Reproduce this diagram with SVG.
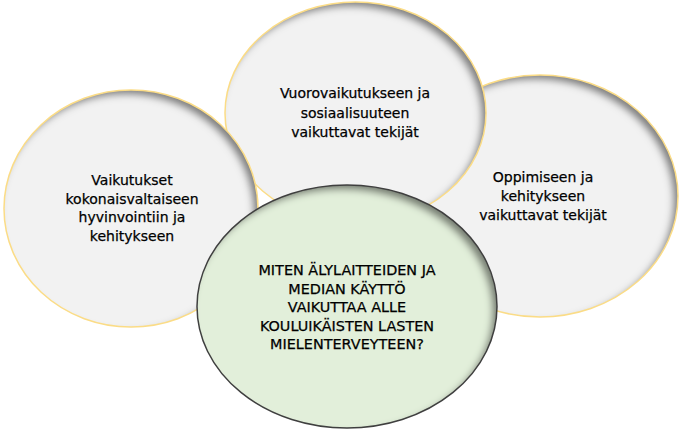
<svg xmlns="http://www.w3.org/2000/svg" width="690" height="433" viewBox="0 0 690 433">
<defs>
<filter id="ish" x="-10%" y="-10%" width="120%" height="120%">
<feOffset in="SourceAlpha" dx="-5" dy="5" result="off"/>
<feFlood flood-color="#000" flood-opacity="0.75"/>
<feComposite in2="off" operator="out" result="inv"/>
<feGaussianBlur in="inv" stdDeviation="3.5" result="blur"/>
<feComposite in="blur" in2="SourceAlpha" operator="in" result="shadow"/>
<feMerge><feMergeNode in="SourceGraphic"/><feMergeNode in="shadow"/></feMerge>
</filter>
</defs>
<style>
.fill{fill:#f2f2f2;filter:url(#ish)}
.gfill{fill:#e2efda;filter:url(#ish)}
.edge{fill:none;stroke:#fbdc86;stroke-width:1.5}
.gedge{fill:none;stroke:#3f3f3f;stroke-width:1.5}
text{font-family:"DejaVu Sans",Verdana,sans-serif;font-size:14px;fill:#000;stroke:#000;stroke-width:0.25;text-anchor:middle}
.cap{font-size:14.4px}
</style>
<rect width="690" height="433" fill="#fff"/>
<g id="node-right">
<ellipse class="fill" cx="540" cy="196" rx="138" ry="121"/>
<ellipse class="edge" cx="540" cy="196" rx="138" ry="121"/>
<text x="543" y="182">Oppimiseen ja</text>
<text x="543" y="201">kehitykseen</text>
<text x="543" y="220">vaikuttavat tekijät</text>
</g>
<g id="node-top">
<ellipse class="fill" cx="355.5" cy="113" rx="130.5" ry="111"/>
<ellipse class="edge" cx="355.5" cy="113" rx="130.5" ry="111"/>
<text x="355" y="98">Vuorovaikutukseen ja</text>
<text x="355" y="118">sosiaalisuuteen</text>
<text x="355" y="137">vaikuttavat tekijät</text>
</g>
<g id="node-left">
<ellipse class="fill" cx="131" cy="208.5" rx="127" ry="118.5"/>
<ellipse class="edge" cx="131" cy="208.5" rx="127" ry="118.5"/>
<text x="132" y="185">Vaikutukset</text>
<text x="132" y="204">kokonaisvaltaiseen</text>
<text x="132" y="222">hyvinvointiin ja</text>
<text x="132" y="241">kehitykseen</text>
</g>
<g id="node-center">
<ellipse class="gfill" cx="347" cy="306.5" rx="150" ry="121.5"/>
<ellipse class="gedge" cx="347" cy="306.5" rx="150" ry="121.5"/>
<text class="cap" x="347" y="275">MITEN ÄLYLAITTEIDEN JA</text>
<text class="cap" x="347" y="293.5">MEDIAN KÄYTTÖ</text>
<text class="cap" x="347" y="312">VAIKUTTAA ALLE</text>
<text class="cap" x="347" y="330.5">KOULUIKÄISTEN LASTEN</text>
<text class="cap" x="347" y="349">MIELENTERVEYTEEN?</text>
</g>
<g id="connectors"></g>
</svg>
